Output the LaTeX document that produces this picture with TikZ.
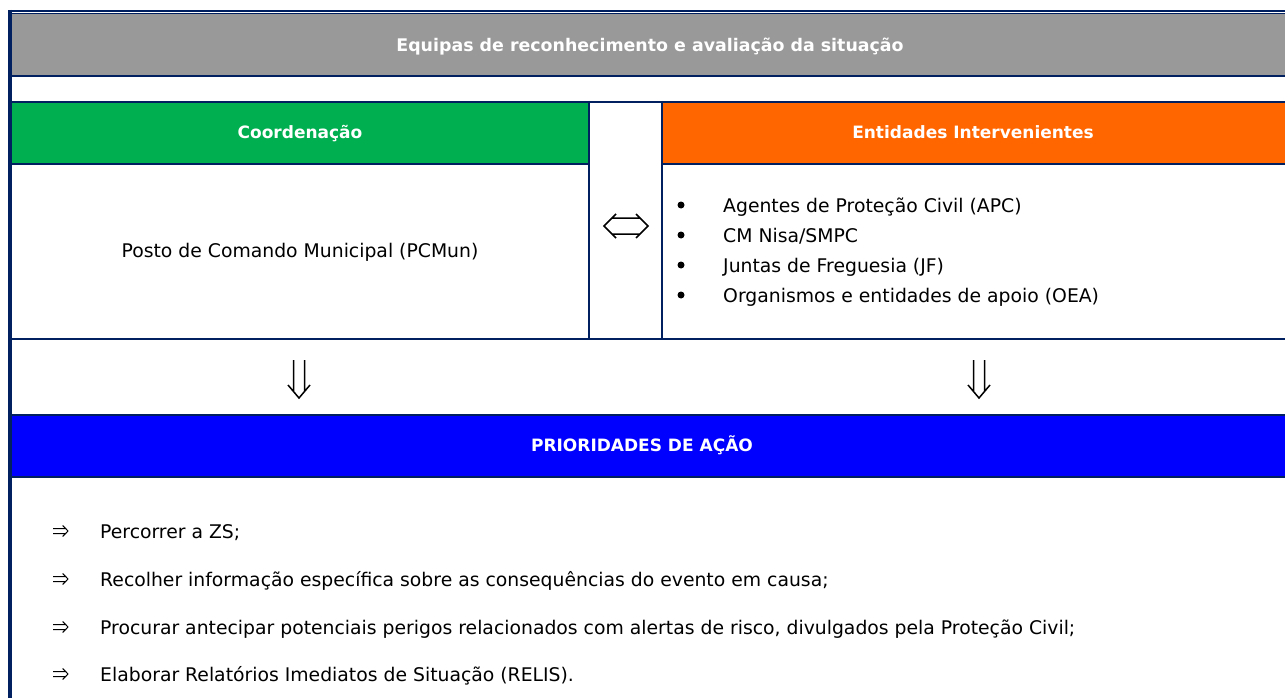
\documentclass[tikz,border=0pt]{standalone}
\usepackage{fontspec}
\setmainfont{DejaVu Sans}
\definecolor{navy}{HTML}{002060}
\definecolor{hgray}{HTML}{999999}
\definecolor{hgreen}{HTML}{00B050}
\definecolor{horange}{HTML}{FF6600}
\definecolor{hblue}{HTML}{0000FF}
\tikzset{
  rule/.style={draw=navy,line width=2pt},
  hdr/.style={text=white,font=\fontsize{17}{20}\selectfont\bfseries,inner sep=0pt,anchor=base},
  bodytxt/.style={font=\fontsize{18.8}{22}\selectfont,inner sep=0pt,anchor=base west},
  bodyc/.style={font=\fontsize{18.8}{22}\selectfont,inner sep=0pt,anchor=base},
  glyphline/.style={draw=black,line width=1.5pt,line join=miter},
  bulletdot/.style={circle,fill=black,inner sep=0pt,minimum size=7pt},
  smallimp/.pic={\draw[draw=black,line width=1pt] (-7.5,-2.5)--(5,-2.5) (-7.5,2.5)--(5,2.5) (2.2,-5.5)--(7.5,0)--(2.2,5.5);},
  downimp/.pic={\draw[glyphline] (-5.5,-19)--(-5.5,13) (5.5,-19)--(5.5,13) (-11,6)--(0,19)--(11,6);},
  bothimp/.pic={\draw[glyphline] (-14,-8)--(14,-8) (-14,8)--(14,8) (-10,-12)--(-22,0)--(-10,12) (10,-12)--(22,0)--(10,12);}
}
\begin{document}
\begin{tikzpicture}[x=1pt,y=-1pt]
\useasboundingbox (0,0) rectangle (1285,698);
\fill[white] (0,0) rectangle (1285,698);
% fills
\fill[hgray] (12,14) rectangle (1285,75);
\fill[hgreen] (12,103) rectangle (589,163);
\fill[horange] (662,103) rectangle (1285,163);
\fill[hblue] (12,415) rectangle (1285,476);
% rules
\draw[navy,line width=2pt] (8,11) -- (1285,11);
\draw[navy,line width=1pt] (8,13.5) -- (1285,13.5);
\draw[rule] (12,76) -- (1285,76);
\draw[rule] (12,102) -- (1285,102);
\draw[navy,line width=1.5pt] (12,163.8) -- (589,163.8);
\draw[navy,line width=1.5pt] (662,163.8) -- (1285,163.8);
\draw[rule] (12,339) -- (1285,339);
\draw[rule] (12,414.5) -- (1285,414.5);
\draw[rule] (12,476.5) -- (1285,476.5);
\draw[rule] (589,101) -- (589,340);
\draw[rule] (662,101) -- (662,340);
\draw[navy,line width=4pt] (10,10) -- (10,698);
% header texts
\node[hdr,font=\fontsize{17.4}{20}\selectfont\bfseries] (title) at (650,52) {Equipas de reconhecimento e avaliação da situação};
\node[hdr] (coord) at (300,139) {Coordenação};
\node[hdr] (entid) at (973,139) {Entidades Intervenientes};
\node[hdr] (prior) at (642,451) {PRIORIDADES DE AÇÃO};
% coordination cell
\node[bodyc] (posto) at (300,257) {Posto de Comando Municipal (PCMun)};
% exchange glyph
\pic at (626,226) {bothimp};
% entities list
\foreach \yy/\txt [count=\i] in {205/Agentes de Proteção Civil (APC),235/CM Nisa\slash SMPC,265/Juntas de Freguesia (JF),295/Organismos e entidades de apoio (OEA)}{
  \node[bulletdot] (b\i) at (681,\yy) {};
  \node[bodytxt] (e\i) at (723,\yy+7) {\txt};
}
% down arrows
\pic at (299,379) {downimp};
\pic at (979,379) {downimp};
% priorities
\foreach \yy/\txt [count=\i] in {531/Percorrer a ZS;,579/Recolher informação específica sobre as consequências do evento em causa;,627/{Procurar antecipar potenciais perigos relacionados com alertas de risco, divulgados pela Proteção Civil;},674/Elaborar Relatórios Imediatos de Situação (RELIS).}{
  \pic at (60.5,\yy) {smallimp};
  \node[bodytxt] (p\i) at (100,\yy+7) {\txt};
}
\end{tikzpicture}
\end{document}
